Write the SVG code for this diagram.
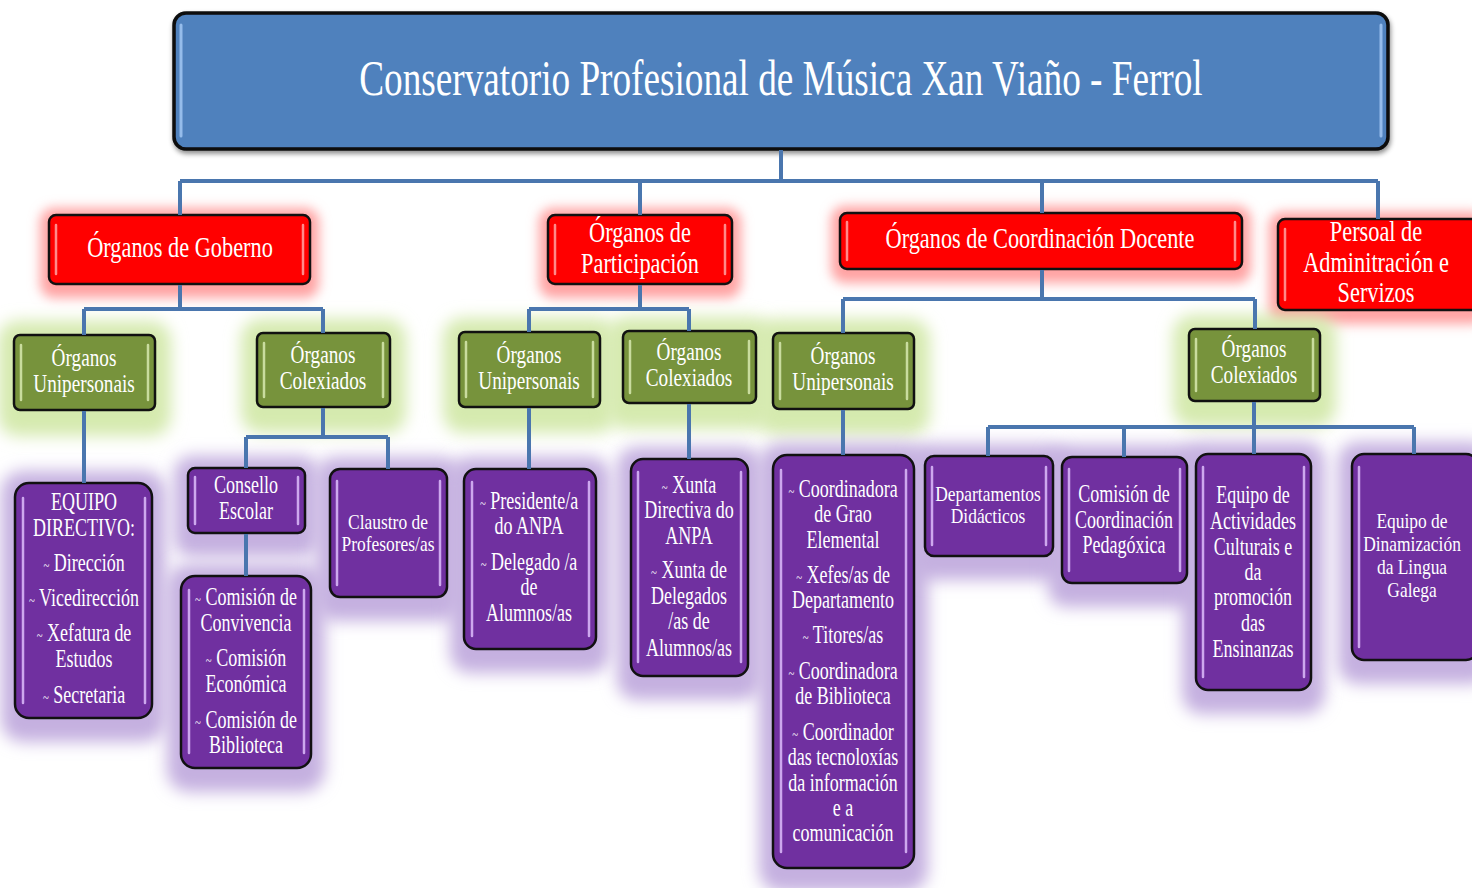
<svg xmlns="http://www.w3.org/2000/svg" width="1472" height="888" viewBox="0 0 1472 888">
  <defs>
    <style>
      text { font-family: "Liberation Serif", "Times New Roman", serif; fill: #ffffff; text-anchor: middle; }
      .ttl { font-size: 51px; }
      .red { font-size: 29px; }
      .grn { font-size: 26px; }
      .pur { font-size: 25px; }
      .sm  { font-size: 21px; }
      .tl  { font-size: 15px; }
      .box { stroke: #111111; stroke-width: 2.5; }
      .bBlue { fill: #4F81BD; stroke: #0a0a0a; stroke-width: 3.5; }
      .bRed { fill: #FF0000; }
      .bGrn { fill: #77933C; }
      .bPur { fill: #7030A0; }
      .hBlue { stroke: #95BCEB; stroke-width: 3; stroke-linecap: round; }
      .hRed { stroke: #FF8A8A; stroke-width: 2.5; stroke-linecap: round; }
      .hGrn { stroke: #C9DC9E; stroke-width: 2.5; stroke-linecap: round; }
      .hPur { stroke: #CDA8EE; stroke-width: 2.5; stroke-linecap: round; }
      .con { fill: none; stroke: #4A76AE; stroke-width: 4; stroke-linejoin: miter; }
      .gR { fill: #FFA3A3; filter: url(#soft6); }
      .gG { fill: #D5EAAF; filter: url(#soft8); }
      .gP { fill: #C5B0E0; filter: url(#soft8); }
    </style>
    <filter id="shadow" x="-5%" y="-10%" width="110%" height="130%">
      <feGaussianBlur in="SourceAlpha" stdDeviation="2.5"/>
      <feOffset dx="1" dy="3" result="o"/>
      <feFlood flood-color="#000000" flood-opacity="0.45"/>
      <feComposite in2="o" operator="in" result="s"/>
      <feMerge><feMergeNode in="s"/><feMergeNode in="SourceGraphic"/></feMerge>
    </filter>
    <filter id="soft6" x="-50%" y="-50%" width="200%" height="200%">
      <feGaussianBlur stdDeviation="6"/>
    </filter>
    <filter id="soft8" x="-50%" y="-50%" width="200%" height="200%">
      <feGaussianBlur stdDeviation="8"/>
    </filter>
  </defs>

  <rect width="1472" height="888" fill="#ffffff"/>

  <!-- Soft halos behind the boxes -->
  <g id="halos">
    <rect class="gR" x="40" y="208" width="279" height="90" rx="14"/>
    <rect class="gR" x="539" y="208" width="202" height="90" rx="14"/>
    <rect class="gR" x="831" y="206" width="420" height="77" rx="14"/>
    <rect class="gR" x="1269" y="212" width="218" height="112" rx="14"/>

    <rect class="gG" x="-2" y="321" width="173" height="115" rx="20"/>
    <rect class="gG" x="241" y="319" width="165" height="114" rx="20"/>
    <rect class="gG" x="443" y="318" width="173" height="115" rx="20"/>
    <rect class="gG" x="607" y="317" width="165" height="112" rx="20"/>
    <rect class="gG" x="757" y="319" width="173" height="116" rx="20"/>
    <rect class="gG" x="1173" y="315" width="163" height="112" rx="20"/>

    <rect class="gP" x="1" y="471" width="165" height="271" rx="22"/>
    <rect class="gP" x="174" y="456" width="145" height="101" rx="18"/>
    <rect class="gP" x="167" y="564" width="158" height="228" rx="22"/>
    <rect class="gP" x="316" y="457" width="145" height="164" rx="20"/>
    <rect class="gP" x="450" y="457" width="160" height="216" rx="20"/>
    <rect class="gP" x="617" y="447" width="145" height="253" rx="20"/>
    <rect class="gP" x="759" y="443" width="169" height="449" rx="22"/>
    <rect class="gP" x="911" y="444" width="156" height="136" rx="18"/>
    <rect class="gP" x="1048" y="445" width="153" height="162" rx="18"/>
    <rect class="gP" x="1182" y="442" width="143" height="272" rx="20"/>
    <rect class="gP" x="1338" y="442" width="154" height="242" rx="20"/>
  </g>

  <!-- Title -->
  <g id="n-title">
    <g filter="url(#shadow)">
      <rect class="bBlue" x="174" y="13" width="1214" height="136" rx="12"/>
      <line class="hBlue" x1="181" y1="25" x2="181" y2="136"/>
      <line class="hBlue" x1="1381" y1="25" x2="1381" y2="136"/>
    </g>
    <g transform="matrix(0.73 0 0 1 781 0)">
      <text class="ttl" x="0" y="95">Conservatorio Profesional de Música Xan Viaño - Ferrol</text>
    </g>
  </g>

  <!-- Level 1: red -->
  <g id="n-goberno">
    <rect class="box bRed" x="49" y="215" width="261" height="69" rx="7"/>
    <line class="hRed" x1="56" y1="225" x2="56" y2="274"/>
    <line class="hRed" x1="303" y1="225" x2="303" y2="274"/>
    <g transform="matrix(0.77 0 0 1 180 0)">
      <text class="red" x="0" y="257">Órganos de Goberno</text>
    </g>
  </g>
  <g id="n-participacion">
    <rect class="box bRed" x="548" y="215" width="184" height="69" rx="7"/>
    <line class="hRed" x1="555" y1="225" x2="555" y2="274"/>
    <line class="hRed" x1="725" y1="225" x2="725" y2="274"/>
    <g transform="matrix(0.77 0 0 1 640 0)">
      <text class="red" x="0" y="242">Órganos de</text>
      <text class="red" x="0" y="273">Participación</text>
    </g>
  </g>
  <g id="n-coordinacion">
    <rect class="box bRed" x="840" y="213" width="402" height="56" rx="7"/>
    <line class="hRed" x1="847" y1="222" x2="847" y2="260"/>
    <line class="hRed" x1="1235" y1="222" x2="1235" y2="260"/>
    <g transform="matrix(0.77 0 0 1 1040 0)">
      <text class="red" x="0" y="248">Órganos de Coordinación Docente</text>
    </g>
  </g>
  <g id="n-persoal">
    <rect class="box bRed" x="1278" y="219" width="200" height="91" rx="7"/>
    <line class="hRed" x1="1285" y1="229" x2="1285" y2="300"/>
    <g transform="matrix(0.77 0 0 1 1376 0)">
      <text class="red" x="0" y="241">Persoal de</text>
      <text class="red" x="0" y="272">Adminitración e</text>
      <text class="red" x="0" y="302">Servizos</text>
    </g>
  </g>

  <!-- Level 2: green -->
  <g id="n-gob-unip">
    <rect class="box bGrn" x="14" y="335" width="141" height="75" rx="6"/>
    <line class="hGrn" x1="21" y1="345" x2="21" y2="400"/>
    <line class="hGrn" x1="148" y1="345" x2="148" y2="400"/>
    <g transform="matrix(0.74 0 0 1 84 0)">
      <text class="grn" x="0" y="366">Órganos</text>
      <text class="grn" x="0" y="392">Unipersonais</text>
    </g>
  </g>
  <g id="n-gob-colex">
    <rect class="box bGrn" x="257" y="333" width="133" height="74" rx="6"/>
    <line class="hGrn" x1="264" y1="343" x2="264" y2="397"/>
    <line class="hGrn" x1="383" y1="343" x2="383" y2="397"/>
    <g transform="matrix(0.74 0 0 1 323 0)">
      <text class="grn" x="0" y="363">Órganos</text>
      <text class="grn" x="0" y="389">Colexiados</text>
    </g>
  </g>
  <g id="n-par-unip">
    <rect class="box bGrn" x="459" y="332" width="141" height="75" rx="6"/>
    <line class="hGrn" x1="466" y1="342" x2="466" y2="397"/>
    <line class="hGrn" x1="593" y1="342" x2="593" y2="397"/>
    <g transform="matrix(0.74 0 0 1 529 0)">
      <text class="grn" x="0" y="363">Órganos</text>
      <text class="grn" x="0" y="389">Unipersonais</text>
    </g>
  </g>
  <g id="n-par-colex">
    <rect class="box bGrn" x="623" y="331" width="133" height="72" rx="6"/>
    <line class="hGrn" x1="630" y1="341" x2="630" y2="393"/>
    <line class="hGrn" x1="749" y1="341" x2="749" y2="393"/>
    <g transform="matrix(0.74 0 0 1 689 0)">
      <text class="grn" x="0" y="360">Órganos</text>
      <text class="grn" x="0" y="386">Colexiados</text>
    </g>
  </g>
  <g id="n-coo-unip">
    <rect class="box bGrn" x="773" y="333" width="141" height="76" rx="6"/>
    <line class="hGrn" x1="780" y1="343" x2="780" y2="399"/>
    <line class="hGrn" x1="907" y1="343" x2="907" y2="399"/>
    <g transform="matrix(0.74 0 0 1 843 0)">
      <text class="grn" x="0" y="364">Órganos</text>
      <text class="grn" x="0" y="390">Unipersonais</text>
    </g>
  </g>
  <g id="n-coo-colex">
    <rect class="box bGrn" x="1189" y="329" width="131" height="72" rx="6"/>
    <line class="hGrn" x1="1196" y1="339" x2="1196" y2="391"/>
    <line class="hGrn" x1="1313" y1="339" x2="1313" y2="391"/>
    <g transform="matrix(0.74 0 0 1 1254 0)">
      <text class="grn" x="0" y="357">Órganos</text>
      <text class="grn" x="0" y="383">Colexiados</text>
    </g>
  </g>

  <!-- Level 3: purple -->
  <g id="n-equipo-directivo">
    <rect class="box bPur" x="15" y="483" width="137" height="235" rx="14"/>
    <line class="hPur" x1="23" y1="498" x2="23" y2="703"/>
    <line class="hPur" x1="145" y1="498" x2="145" y2="703"/>
    <g transform="matrix(0.72 0 0 1 84 0)">
      <text class="pur" x="0" y="510">EQUIPO</text>
      <text class="pur" x="0" y="536">DIRECTIVO:</text>
      <text class="pur" x="0" y="571"><tspan class="tl">~</tspan> Dirección</text>
      <text class="pur" x="0" y="606"><tspan class="tl">~</tspan> Vicedirección</text>
      <text class="pur" x="0" y="641"><tspan class="tl">~</tspan> Xefatura de</text>
      <text class="pur" x="0" y="667">Estudos</text>
      <text class="pur" x="0" y="703"><tspan class="tl">~</tspan> Secretaria</text>
    </g>
  </g>
  <g id="n-consello">
    <rect class="box bPur" x="188" y="468" width="117" height="65" rx="7"/>
    <line class="hPur" x1="195" y1="477" x2="195" y2="524"/>
    <line class="hPur" x1="298" y1="477" x2="298" y2="524"/>
    <g transform="matrix(0.72 0 0 1 246 0)">
      <text class="pur" x="0" y="493">Consello</text>
      <text class="pur" x="0" y="519">Escolar</text>
    </g>
  </g>
  <g id="n-comisions">
    <rect class="box bPur" x="181" y="576" width="130" height="192" rx="14"/>
    <line class="hPur" x1="189" y1="590" x2="189" y2="753"/>
    <line class="hPur" x1="304" y1="590" x2="304" y2="753"/>
    <g transform="matrix(0.72 0 0 1 246 0)">
      <text class="pur" x="0" y="605"><tspan class="tl">~</tspan> Comisión de</text>
      <text class="pur" x="0" y="631">Convivencia</text>
      <text class="pur" x="0" y="666"><tspan class="tl">~</tspan> Comisión</text>
      <text class="pur" x="0" y="692">Económica</text>
      <text class="pur" x="0" y="728"><tspan class="tl">~</tspan> Comisión de</text>
      <text class="pur" x="0" y="753">Biblioteca</text>
    </g>
  </g>
  <g id="n-claustro">
    <rect class="box bPur" x="330" y="469" width="117" height="128" rx="10"/>
    <line class="hPur" x1="337" y1="481" x2="337" y2="585"/>
    <line class="hPur" x1="440" y1="481" x2="440" y2="585"/>
    <g transform="matrix(0.83 0 0 1 388 0)">
      <text class="sm" x="0" y="529">Claustro de</text>
      <text class="sm" x="0" y="551">Profesores/as</text>
    </g>
  </g>
  <g id="n-presidente">
    <rect class="box bPur" x="464" y="469" width="132" height="180" rx="12"/>
    <line class="hPur" x1="472" y1="482" x2="472" y2="636"/>
    <line class="hPur" x1="589" y1="482" x2="589" y2="636"/>
    <g transform="matrix(0.72 0 0 1 529 0)">
      <text class="pur" x="0" y="509"><tspan class="tl">~</tspan> Presidente/a</text>
      <text class="pur" x="0" y="534">do ANPA</text>
      <text class="pur" x="0" y="570"><tspan class="tl">~</tspan> Delegado /a</text>
      <text class="pur" x="0" y="595">de</text>
      <text class="pur" x="0" y="621">Alumnos/as</text>
    </g>
  </g>
  <g id="n-xunta">
    <rect class="box bPur" x="631" y="459" width="117" height="217" rx="12"/>
    <line class="hPur" x1="638" y1="472" x2="638" y2="662"/>
    <line class="hPur" x1="741" y1="472" x2="741" y2="662"/>
    <g transform="matrix(0.72 0 0 1 689 0)">
      <text class="pur" x="0" y="493"><tspan class="tl">~</tspan> Xunta</text>
      <text class="pur" x="0" y="518">Directiva do</text>
      <text class="pur" x="0" y="544">ANPA</text>
      <text class="pur" x="0" y="578"><tspan class="tl">~</tspan> Xunta de</text>
      <text class="pur" x="0" y="604">Delegados</text>
      <text class="pur" x="0" y="629">/as de</text>
      <text class="pur" x="0" y="656">Alumnos/as</text>
    </g>
  </g>
  <g id="n-coordinadora">
    <rect class="box bPur" x="773" y="455" width="141" height="413" rx="14"/>
    <line class="hPur" x1="781" y1="470" x2="781" y2="852"/>
    <line class="hPur" x1="906" y1="470" x2="906" y2="852"/>
    <g transform="matrix(0.72 0 0 1 843 0)">
      <text class="pur" x="0" y="497"><tspan class="tl">~</tspan> Coordinadora</text>
      <text class="pur" x="0" y="522">de Grao</text>
      <text class="pur" x="0" y="548">Elemental</text>
      <text class="pur" x="0" y="583"><tspan class="tl">~</tspan> Xefes/as de</text>
      <text class="pur" x="0" y="608">Departamento</text>
      <text class="pur" x="0" y="643"><tspan class="tl">~</tspan> Titores/as</text>
      <text class="pur" x="0" y="679"><tspan class="tl">~</tspan> Coordinadora</text>
      <text class="pur" x="0" y="704">de Biblioteca</text>
      <text class="pur" x="0" y="740"><tspan class="tl">~</tspan> Coordinador</text>
      <text class="pur" x="0" y="765">das tecnoloxías</text>
      <text class="pur" x="0" y="791">da información</text>
      <text class="pur" x="0" y="816">e a</text>
      <text class="pur" x="0" y="841">comunicación</text>
    </g>
  </g>
  <g id="n-departamentos">
    <rect class="box bPur" x="925" y="456" width="128" height="100" rx="9"/>
    <line class="hPur" x1="932" y1="467" x2="932" y2="545"/>
    <line class="hPur" x1="1046" y1="467" x2="1046" y2="545"/>
    <g transform="matrix(0.83 0 0 1 988 0)">
      <text class="sm" x="0" y="501">Departamentos</text>
      <text class="sm" x="0" y="523">Didácticos</text>
    </g>
  </g>
  <g id="n-ccp">
    <rect class="box bPur" x="1062" y="457" width="125" height="126" rx="10"/>
    <line class="hPur" x1="1069" y1="469" x2="1069" y2="571"/>
    <line class="hPur" x1="1180" y1="469" x2="1180" y2="571"/>
    <g transform="matrix(0.72 0 0 1 1124 0)">
      <text class="pur" x="0" y="502">Comisión de</text>
      <text class="pur" x="0" y="528">Coordinación</text>
      <text class="pur" x="0" y="553">Pedagóxica</text>
    </g>
  </g>
  <g id="n-actividades">
    <rect class="box bPur" x="1196" y="454" width="115" height="236" rx="12"/>
    <line class="hPur" x1="1203" y1="467" x2="1203" y2="677"/>
    <line class="hPur" x1="1304" y1="467" x2="1304" y2="677"/>
    <g transform="matrix(0.72 0 0 1 1253 0)">
      <text class="pur" x="0" y="503">Equipo de</text>
      <text class="pur" x="0" y="529">Actividades</text>
      <text class="pur" x="0" y="555">Culturais e</text>
      <text class="pur" x="0" y="580">da</text>
      <text class="pur" x="0" y="605">promoción</text>
      <text class="pur" x="0" y="631">das</text>
      <text class="pur" x="0" y="657">Ensinanzas</text>
    </g>
  </g>
  <g id="n-lingua">
    <rect class="box bPur" x="1352" y="454" width="126" height="206" rx="12"/>
    <line class="hPur" x1="1359" y1="467" x2="1359" y2="647"/>
    <g transform="matrix(0.83 0 0 1 1412 0)">
      <text class="sm" x="0" y="528">Equipo de</text>
      <text class="sm" x="0" y="551">Dinamización</text>
      <text class="sm" x="0" y="574">da Lingua</text>
      <text class="sm" x="0" y="597">Galega</text>
    </g>
  </g>

  <!-- Connectors -->
  <g id="connectors">
    <path class="con" d="M781 150 V181 M180 181 H1378 M180 181 V215 M640 181 V215 M1042 181 V213 M1378 181 V219"/>
    <path class="con" d="M180 285 V309 M84 309 H323 M84 309 V335 M323 309 V333"/>
    <path class="con" d="M640 285 V309 M529 309 H689 M529 309 V332 M689 309 V331"/>
    <path class="con" d="M1042 270 V299 M843 299 H1255 M843 299 V333 M1255 299 V329"/>
    <path class="con" d="M84 411 V483"/>
    <path class="con" d="M323 408 V437 M246 437 H388 M246 437 V468 M388 437 V469"/>
    <path class="con" d="M246 534 V576"/>
    <path class="con" d="M529 408 V469"/>
    <path class="con" d="M689 404 V459"/>
    <path class="con" d="M843 410 V455"/>
    <path class="con" d="M1254 402 V427 M988 427 H1414 M988 427 V456 M1124 427 V457 M1254 427 V454 M1414 427 V454"/>
  </g>
</svg>
